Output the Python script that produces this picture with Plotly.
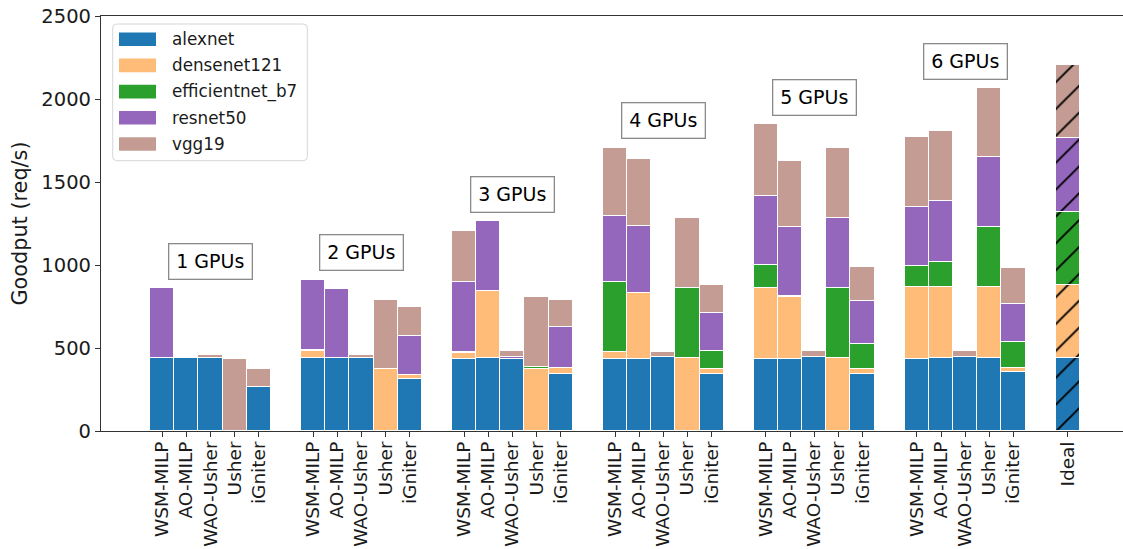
import plotly.graph_objects as go

# Scheduling methods per GPU count, plus the ideal upper bound
methods = ["WSM-MILP", "AO-MILP", "WAO-Usher", "Usher", "iGniter"]
gpu_counts = [1, 2, 3, 4, 5, 6]
models = ["alexnet", "densenet121", "efficientnet_b7", "resnet50", "vgg19"]
colors = ["#1f77b4", "#ffbb78", "#2ca02c", "#9467bd", "#c49c94"]

# Goodput (req/s) per model; each row is one GPU count, columns follow `methods`
alexnet = [
    [440, 440, 440, 0, 265],
    [440, 440, 440, 0, 315],
    [433, 440, 432, 0, 345],
    [434, 434, 444, 0, 345],
    [432, 432, 444, 0, 343],
    [434, 442, 444, 442, 357],
]
densenet121 = [
    [0, 0, 0, 0, 0],
    [40, 0, 0, 372, 20],
    [34, 403, 0, 372, 33],
    [40, 396, 0, 440, 30],
    [431, 375, 0, 442, 29],
    [435, 427, 0, 427, 21],
]
efficientnet_b7 = [
    [0, 0, 0, 0, 0],
    [6, 0, 0, 0, 0],
    [6, 0, 0, 14, 3],
    [424, 0, 4, 423, 107],
    [139, 8, 4, 421, 152],
    [127, 147, 4, 362, 160],
]
resnet50 = [
    [421, 0, 0, 0, 0],
    [425, 415, 0, 0, 236],
    [425, 420, 12, 0, 247],
    [395, 407, 0, 0, 229],
    [415, 416, 0, 422, 257],
    [351, 367, 0, 421, 229],
]
vgg19 = [
    [0, 0, 20, 432, 107],
    [0, 0, 20, 419, 174],
    [309, 0, 38, 421, 159],
    [412, 402, 26, 422, 167],
    [431, 394, 34, 422, 207],
    [422, 422, 34, 413, 213],
]
# Ideal goodput per model
ideal = [442, 436, 441, 444, 441]

series = [alexnet, densenet121, efficientnet_b7, resnet50, vgg19]

BAR_W = 0.16
FONT = "DejaVu Sans"

# x positions: group g at g, bars offset by BAR_W; Ideal sits after the last group
xs, labels = [], []
for g in range(len(gpu_counts)):
    for j, m in enumerate(methods):
        xs.append(g + j * BAR_W)
        labels.append(m)
xs.append(len(gpu_counts))
labels.append("Ideal")

fig = go.Figure()
for k, (name, data) in enumerate(zip(models, series)):
    ys = [v for row in data for v in row] + [ideal[k]]
    shapes = [""] * (len(ys) - 1) + ["/"]
    fig.add_trace(go.Bar(
        x=xs, y=ys, width=BAR_W, name=name,
        marker=dict(
            color=colors[k],
            line=dict(color="white", width=1),
            pattern=dict(shape=shapes, fgcolor="black", bgcolor=colors[k],
                         size=19, solidity=0.1, fillmode="replace"),
        ),
        showlegend=False,
    ))

# Totals per bar, used to position the GPU-count labels
totals = [[sum(s[g][j] for s in series) for j in range(len(methods))]
          for g in range(len(gpu_counts))]

annotations = []
for g, n in enumerate(gpu_counts):
    annotations.append(dict(
        x=g + 2 * BAR_W, y=max(totals[g]) + 163, xref="x", yref="y",
        text=f"{n} GPUs", showarrow=False,
        font=dict(family=FONT, size=19, color="black"),
        bgcolor="white", bordercolor="#8a8a8a", borderwidth=1.3,
        width=80, height=32, xanchor="center", yanchor="middle",
    ))

# Legend drawn in plot-area pixel space (plot area: x 101..1123, y 16..431)
PX0, PX1, PY0, PY1 = 101, 1123, 16, 431
def px(x):
    return (x - PX0) / (PX1 - PX0)
def py(y):
    return (PY1 - y) / (PY1 - PY0)

shapes_l = []
lx0, lx1, ly0, ly1, r = 112.7, 307.3, 24, 160.7, 4
path = (f"M {px(lx0 + r)} {py(ly0)} L {px(lx1 - r)} {py(ly0)} "
        f"Q {px(lx1)} {py(ly0)} {px(lx1)} {py(ly0 + r)} "
        f"L {px(lx1)} {py(ly1 - r)} Q {px(lx1)} {py(ly1)} {px(lx1 - r)} {py(ly1)} "
        f"L {px(lx0 + r)} {py(ly1)} Q {px(lx0)} {py(ly1)} {px(lx0)} {py(ly1 - r)} "
        f"L {px(lx0)} {py(ly0 + r)} Q {px(lx0)} {py(ly0)} {px(lx0 + r)} {py(ly0)} Z")
shapes_l.append(dict(type="path", path=path, xref="paper", yref="paper",
                     fillcolor="rgba(255,255,255,0.8)",
                     line=dict(color="#d6d6d6", width=1)))
for k, name in enumerate(models):
    cy = 39.2 + 26.2 * k
    shapes_l.append(dict(type="rect", xref="paper", yref="paper",
                         x0=px(119), x1=px(156), y0=py(cy - 6.8), y1=py(cy + 6.8),
                         fillcolor=colors[k], line=dict(width=0)))
    annotations.append(dict(
        x=px(170), y=py(cy), xref="paper", yref="paper", text=name,
        showarrow=False, xanchor="left", yanchor="middle",
        font=dict(family=FONT, size=16.8, color="#1a1a1a"),
    ))

fig.update_layout(
    width=1123, height=549,
    margin=dict(l=101, r=0, t=16, b=118, pad=0),
    barmode="stack",
    plot_bgcolor="white", paper_bgcolor="white",
    font=dict(family=FONT, size=19, color="#1a1a1a"),
    annotations=annotations, shapes=shapes_l,
    bargap=0,
)
fig.update_xaxes(
    range=[-0.406, 6.366], automargin=False,
    tickmode="array", tickvals=xs, ticktext=labels, tickangle=-90,
    ticks="outside", ticklen=5, tickcolor="#333", tickwidth=1,
    ticklabelstandoff=-3,
    showline=True, linecolor="#333", linewidth=1.2, mirror=True,
    showgrid=False, zeroline=False,
    tickfont=dict(family=FONT, size=18.5, color="#1a1a1a"),
)
fig.update_yaxes(
    range=[0, 2500], tickvals=[0, 500, 1000, 1500, 2000, 2500], automargin=False,
    ticks="outside", ticklen=5, tickcolor="#333", tickwidth=1,
    showline=True, linecolor="#333", linewidth=1.2,
    showgrid=False, zeroline=False,
    tickfont=dict(family=FONT, size=19.5, color="#1a1a1a"),
    title=dict(text="Goodput (req/s)", standoff=8,
               font=dict(family=FONT, size=20.8, color="#1a1a1a")),
)

fig.write_html("out.html")
